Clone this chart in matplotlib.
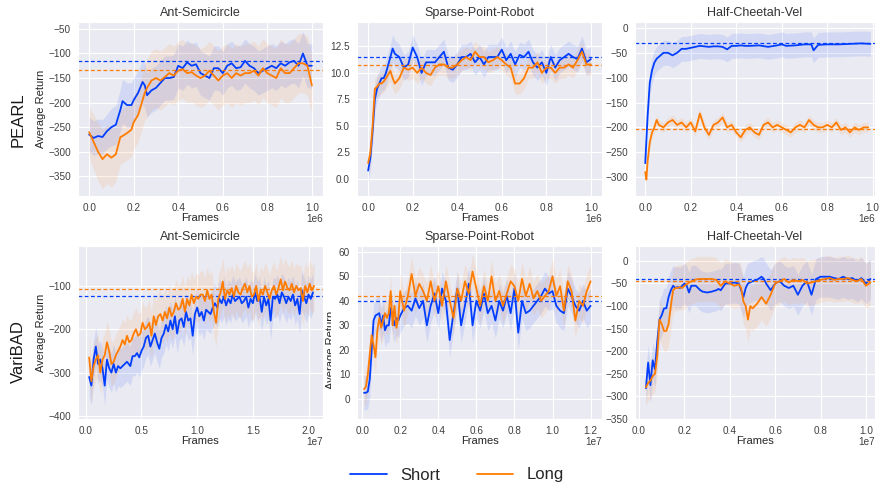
import numpy as np
import matplotlib
matplotlib.use("Agg")
import matplotlib.pyplot as plt
import seaborn as sns
from matplotlib.transforms import Bbox

sns.set_style("darkgrid")
plt.rcParams['font.family'] = ['Liberation Sans', 'DejaVu Sans']

BLUE = '#023eff'
ORANGE = '#ff7c00'

row_names = ["PEARL", "VariBAD"]
titles = ["Ant-Semicircle", "Sparse-Point-Robot", "Half-Cheetah-Vel"]
legend_labels = ["Short", "Long"]

# ---------------- PEARL: Ant-Semicircle (x in 1e6) ----------------
p_ant_x = [0.0, 0.02, 0.04, 0.06, 0.08, 0.10, 0.12, 0.14, 0.15, 0.17, 0.19, 0.20, 0.22, 0.24, 0.25,
           0.26, 0.28, 0.30, 0.32, 0.34, 0.36, 0.38, 0.40, 0.42, 0.44, 0.46, 0.48, 0.50, 0.52,
           0.54, 0.56, 0.58, 0.60, 0.62, 0.64, 0.66, 0.68, 0.70, 0.72, 0.74, 0.76, 0.78, 0.80,
           0.82, 0.84, 0.86, 0.88, 0.90, 0.92, 0.94, 0.96, 0.98, 1.0]
p_ant_short = [-265, -272, -268, -270, -258, -250, -245, -215, -197, -205, -205, -195, -180, -158, -165,
               -185, -175, -170, -160, -150, -150, -148, -125, -130, -118, -125, -122, -140, -145,
               -150, -130, -130, -140, -125, -120, -130, -128, -115, -125, -130, -140, -135, -130,
               -125, -130, -120, -125, -118, -115, -125, -100, -125, -125]
p_ant_short_sd = [35, 35, 35, 35, 35, 38, 40, 42, 45, 45, 45, 45, 45, 45, 45,
                  45, 45, 45, 45, 45, 45, 45, 45, 45, 45, 45, 45, 45, 45,
                  45, 45, 45, 45, 45, 45, 45, 45, 45, 45, 45, 45, 45, 45,
                  45, 45, 45, 45, 45, 45, 45, 45, 45, 45]
p_ant_long = [-260, -280, -300, -315, -305, -312, -305, -270, -268, -262, -255, -240, -225, -195, -180,
              -170, -155, -150, -155, -148, -140, -145, -135, -132, -140, -138, -145, -150, -145,
              -135, -145, -155, -145, -140, -150, -140, -145, -140, -140, -135, -145, -130, -140,
              -145, -150, -130, -140, -140, -130, -120, -120, -125, -165]
p_ant_long_sd = [50, 55, 60, 60, 60, 60, 55, 55, 55, 55, 55, 55, 55, 55, 55,
                 60, 60, 60, 60, 60, 60, 60, 60, 60, 60, 60, 60, 60, 60,
                 60, 60, 60, 60, 60, 60, 60, 60, 60, 60, 60, 60, 60, 60,
                 60, 60, 60, 60, 60, 60, 60, 60, 60, 60]
p_ant_ref = [-116, -133]

# ---------------- PEARL: Sparse-Point-Robot (x in 1e6) ----------------
p_spr_x = [0.0, 0.01, 0.02, 0.03, 0.04, 0.05, 0.06, 0.07, 0.08, 0.10, 0.11, 0.12, 0.14, 0.16, 0.18,
           0.20, 0.22, 0.24, 0.26, 0.28, 0.30, 0.32, 0.34, 0.36, 0.38, 0.40, 0.42, 0.44, 0.46,
           0.48, 0.50, 0.52, 0.54, 0.56, 0.58, 0.60, 0.62, 0.64, 0.66, 0.68, 0.70, 0.72, 0.74,
           0.76, 0.78, 0.80, 0.82, 0.84, 0.86, 0.88, 0.90, 0.92, 0.94, 0.96, 0.98, 1.0]
p_spr_short = [0.8, 2.0, 4.5, 7.5, 8.5, 9.0, 9.5, 9.5, 10.0, 11.5, 12.3, 11.8, 11.5, 10.5, 10.8,
               12.4, 11.5, 10.0, 11.0, 11.0, 11.0, 11.5, 12.0, 10.5, 10.3, 10.8, 11.5, 11.5, 11.8,
               11.0, 11.5, 10.8, 11.5, 11.5, 11.5, 12.2, 11.2, 11.8, 10.8, 11.7, 11.5, 12.0, 11.0,
               10.5, 11.0, 10.0, 11.5, 10.5, 11.2, 11.5, 11.8, 11.5, 11.3, 12.3, 11.0, 11.3]
p_spr_short_sd = [1.0, 1.2, 1.2, 1.2, 1.2, 1.2, 1.2, 1.2, 1.2, 1.2, 1.3, 1.3, 1.2, 1.2, 1.2,
                  1.2, 1.2, 1.2, 1.2, 1.2, 1.2, 1.2, 1.2, 1.2, 1.2, 1.2, 1.2, 1.2, 1.2,
                  1.2, 1.2, 1.2, 1.2, 1.2, 1.2, 1.2, 1.2, 1.2, 1.2, 1.2, 1.2, 1.2, 1.2,
                  1.2, 1.2, 1.2, 1.2, 1.2, 1.2, 1.2, 1.2, 1.2, 1.2, 1.2, 1.2, 1.2]
p_spr_long = [1.5, 2.5, 5.0, 8.5, 8.7, 9.0, 9.0, 9.2, 9.5, 10.2, 9.5, 9.0, 9.5, 10.5, 10.3,
              10.5, 10.0, 10.5, 10.0, 9.8, 10.5, 10.8, 10.8, 10.5, 10.5, 10.8, 11.2, 11.5, 11.2,
              12.0, 11.5, 11.5, 11.0, 11.2, 11.5, 11.2, 10.8, 10.5, 9.0, 9.0, 9.5, 10.5, 10.5,
              11.0, 10.0, 10.5, 10.5, 10.0, 10.5, 10.5, 10.8, 10.5, 11.2, 12.0, 10.8, 10.8]
p_spr_long_sd = [1.0, 1.0, 1.0, 1.0, 1.0, 1.0, 1.0, 1.0, 1.0, 1.0, 1.0, 1.0, 1.0, 1.0, 1.0,
                 1.0, 1.0, 1.0, 1.0, 1.0, 1.0, 1.0, 1.0, 1.0, 1.0, 1.0, 1.0, 1.0, 1.0,
                 1.0, 1.0, 1.0, 1.0, 1.0, 1.0, 1.0, 1.0, 1.0, 1.0, 1.0, 1.0, 1.0, 1.0,
                 1.0, 1.0, 1.0, 1.0, 1.0, 1.0, 1.0, 1.0, 1.0, 1.0, 1.0, 1.0, 1.0]
p_spr_ref = [11.5, 10.75]

# ---------------- PEARL: Half-Cheetah-Vel (x in 1e6) ----------------
p_hc_short_x = [0.0, 0.01, 0.02, 0.03, 0.04, 0.05, 0.06, 0.08, 0.10, 0.12, 0.14, 0.16, 0.18, 0.20,
                0.22, 0.24, 0.26, 0.28, 0.30, 0.32, 0.34, 0.36, 0.38, 0.40, 0.42, 0.44, 0.46,
                0.50, 0.54, 0.58, 0.60, 0.62, 0.66, 0.70, 0.73, 0.74, 0.76, 0.80, 0.85, 0.90,
                0.95, 0.99]
p_hc_short = [-272, -180, -110, -85, -70, -62, -58, -50, -50, -55, -50, -42, -42, -40,
              -38, -36, -37, -38, -37, -37, -38, -43, -36, -36, -35, -36, -36,
              -35, -38, -35, -33, -36, -35, -33, -33, -45, -34, -33, -33, -32,
              -31, -32]
p_hc_short_sd = [10, 20, 25, 25, 25, 25, 25, 25, 25, 25, 25, 25, 25, 25,
                 25, 25, 25, 25, 25, 25, 25, 25, 25, 25, 25, 25, 25,
                 25, 25, 25, 25, 25, 25, 25, 25, 25, 25, 25, 25, 25,
                 25, 25]
p_hc_long_x = [0.0, 0.005, 0.01, 0.015, 0.02, 0.03, 0.04, 0.05, 0.06, 0.08, 0.10, 0.12, 0.14, 0.16,
               0.18, 0.20, 0.22, 0.24, 0.26, 0.28, 0.30, 0.32, 0.34, 0.36, 0.38, 0.40, 0.42,
               0.44, 0.46, 0.48, 0.50, 0.52, 0.54, 0.56, 0.58, 0.60, 0.62, 0.64, 0.66, 0.68,
               0.70, 0.72, 0.74, 0.76, 0.78, 0.80, 0.82, 0.84, 0.86, 0.88, 0.90, 0.92, 0.94,
               0.96, 0.98]
p_hc_long = [-290, -305, -270, -250, -230, -210, -200, -185, -195, -200, -190, -185, -195, -190,
             -200, -190, -208, -172, -200, -215, -195, -190, -180, -200, -195, -210, -220,
             -205, -200, -210, -215, -195, -190, -200, -195, -200, -205, -210, -200, -195,
             -200, -185, -195, -200, -200, -195, -200, -190, -205, -200, -210, -200, -205,
             -200, -200]
p_hc_long_sd = [8, 8, 10, 10, 10, 10, 10, 10, 10, 10, 10, 10, 10, 10,
                10, 10, 10, 10, 10, 10, 10, 10, 10, 10, 10, 10, 10,
                10, 10, 10, 10, 10, 10, 10, 10, 10, 10, 10, 10, 10,
                10, 10, 10, 10, 10, 10, 10, 10, 10, 10, 10, 10, 10,
                10, 10]
p_hc_ref = [-31, -204]

# ---------------- VariBAD: Ant-Semicircle (x in 1e7) ----------------
v_ant_short_x = [0.03, 0.05, 0.07, 0.09, 0.11, 0.13, 0.15, 0.17, 0.19, 0.21, 0.23, 0.25, 0.27, 0.29,
                 0.31, 0.33, 0.35, 0.37, 0.40, 0.42, 0.44, 0.46, 0.48, 0.50, 0.52, 0.54, 0.56,
                 0.58, 0.60, 0.62, 0.64, 0.66, 0.68, 0.70, 0.72, 0.74, 0.76, 0.78, 0.80, 0.82,
                 0.84, 0.86, 0.88, 0.90, 0.92, 0.94, 0.96, 0.98, 1.00, 1.02, 1.04, 1.06, 1.08,
                 1.10, 1.12, 1.14, 1.16, 1.18, 1.20, 1.22, 1.24, 1.26, 1.28, 1.30, 1.32, 1.34,
                 1.36, 1.38, 1.40, 1.42, 1.44, 1.46, 1.48, 1.50, 1.52, 1.54, 1.56, 1.58, 1.60,
                 1.62, 1.64, 1.66, 1.68, 1.70, 1.72, 1.74, 1.76, 1.78, 1.80, 1.82, 1.84, 1.86,
                 1.88, 1.90, 1.92, 1.94, 1.96, 1.98, 2.00, 2.02, 2.04]
v_ant_short = [-310, -330, -270, -240, -280, -270, -290, -330, -270, -290, -300, -280, -300, -285,
               -290, -285, -280, -275, -285, -262, -262, -255, -265, -250, -240, -220, -215,
               -240, -225, -210, -230, -245, -220, -210, -190, -205, -180, -200, -170, -210,
               -180, -175, -195, -160, -180, -175, -215, -165, -150, -170, -160, -180, -155,
               -160, -165, -150, -140, -150, -130, -140, -125, -145, -130, -140, -120, -135,
               -130, -125, -140, -135, -125, -150, -130, -140, -115, -135, -125, -160, -125,
               -145, -130, -180, -125, -130, -120, -140, -115, -125, -140, -125, -135, -120,
               -145, -130, -165, -110, -125, -140, -120, -130, -115]
v_ant_short_sd = [45, 45, 45, 45, 45, 45, 45, 45, 45, 45, 45, 45, 45, 45,
                  45, 45, 45, 45, 45, 45, 45, 45, 45, 45, 45, 45, 45,
                  45, 45, 45, 45, 45, 45, 45, 45, 45, 45, 45, 45, 45,
                  45, 45, 45, 45, 45, 45, 45, 45, 45, 45, 45, 45, 45,
                  45, 45, 45, 45, 45, 45, 45, 45, 45, 45, 45, 45, 45,
                  45, 45, 45, 45, 45, 45, 45, 45, 45, 45, 45, 45, 45,
                  45, 45, 45, 45, 45, 45, 45, 45, 45, 45, 45, 45, 45,
                  45, 45, 45, 45, 45, 45, 45, 45, 45]
v_ant_long_x = [0.03, 0.05, 0.07, 0.09, 0.11, 0.13, 0.15, 0.17, 0.19, 0.21, 0.23, 0.25, 0.27, 0.29,
                0.31, 0.33, 0.35, 0.37, 0.39, 0.41, 0.43, 0.45, 0.47, 0.49, 0.51, 0.53, 0.55,
                0.57, 0.59, 0.61, 0.63, 0.65, 0.67, 0.69, 0.71, 0.73, 0.75, 0.77, 0.79, 0.81,
                0.83, 0.85, 0.87, 0.89, 0.91, 0.93, 0.95, 0.97, 0.99, 1.01, 1.03, 1.05, 1.07,
                1.09, 1.11, 1.13, 1.15, 1.17, 1.19, 1.21, 1.23, 1.25, 1.27, 1.29, 1.31, 1.33,
                1.35, 1.37, 1.39, 1.41, 1.43, 1.45, 1.47, 1.49, 1.51, 1.53, 1.55, 1.57, 1.59,
                1.61, 1.63, 1.65, 1.67, 1.69, 1.71, 1.73, 1.75, 1.77, 1.79, 1.81, 1.83, 1.85,
                1.87, 1.89, 1.91, 1.93, 1.95, 1.97, 1.99, 2.01, 2.03, 2.05]
v_ant_long = [-265, -320, -285, -270, -260, -300, -270, -260, -230, -250, -280, -275, -260, -250,
              -240, -225, -235, -215, -230, -225, -210, -200, -215, -210, -185, -200, -195,
              -185, -215, -170, -190, -170, -165, -180, -160, -175, -150, -170, -160, -140,
              -155, -150, -130, -160, -130, -145, -120, -140, -125, -130, -120, -120, -135,
              -110, -130, -120, -160, -185, -130, -115, -90, -130, -110, -120, -105, -125,
              -100, -115, -120, -105, -95, -115, -100, -125, -120, -100, -135, -110, -120,
              -100, -115, -130, -110, -100, -120, -105, -85, -110, -90, -105, -110, -95,
              -115, -100, -110, -105, -135, -100, -115, -95, -110, -100]
v_ant_long_sd = [50, 50, 50, 50, 50, 50, 50, 50, 50, 50, 50, 50, 50, 50,
                 50, 50, 50, 50, 50, 50, 50, 50, 50, 50, 50, 50, 50,
                 55, 55, 55, 55, 55, 55, 55, 55, 55, 55, 55, 55, 55,
                 55, 55, 55, 55, 55, 55, 55, 55, 55, 55, 55, 55, 55,
                 55, 55, 55, 55, 55, 55, 55, 55, 55, 55, 55, 55, 55,
                 55, 55, 55, 55, 55, 55, 55, 55, 55, 55, 55, 55, 55,
                 55, 55, 55, 55, 55, 55, 55, 55, 55, 55, 55, 55, 55,
                 55, 55, 55, 55, 55, 55, 55, 55, 55, 55]
v_ant_ref = [-124, -108]

# ---------------- VariBAD: Sparse-Point-Robot (x in 1e7) ----------------
v_spr_x = [0.01, 0.02, 0.03, 0.04, 0.05, 0.06, 0.07, 0.08, 0.09, 0.10, 0.11, 0.12, 0.13, 0.14,
           0.15, 0.16, 0.17, 0.18, 0.19, 0.20, 0.22, 0.24, 0.26, 0.28, 0.30, 0.32, 0.34, 0.36,
           0.38, 0.40, 0.42, 0.44, 0.46, 0.48, 0.50, 0.52, 0.54, 0.56, 0.58, 0.60, 0.62,
           0.64, 0.66, 0.68, 0.70, 0.72, 0.74, 0.76, 0.78, 0.80, 0.82, 0.84, 0.86, 0.88,
           0.90, 0.92, 0.94, 0.96, 0.98, 1.00, 1.02, 1.04, 1.06, 1.08, 1.10, 1.12, 1.14,
           1.16, 1.18, 1.20]
v_spr_short = [2.5, 2.5, 3, 8, 20, 32, 34, 34.5, 35, 30, 34, 28, 30, 30,
               37, 34, 30, 33, 32, 34, 37, 38, 36, 41, 37, 40, 30, 38,
               43, 35, 45, 40, 24, 35, 45, 30, 38, 47, 30, 40, 36,
               43, 35, 38, 32, 40, 36, 42, 35, 45, 27, 40, 35, 36,
               38, 40, 42, 45, 43, 44, 38, 36, 35, 45, 42, 38, 36,
               40, 36, 38]
v_spr_short_sd = [7, 7, 7, 7, 7, 7, 7, 7, 7, 7, 7, 7, 7, 7,
                  7, 7, 7, 7, 7, 7, 7, 7, 7, 7, 7, 7, 7, 7,
                  7, 7, 7, 7, 7, 7, 7, 7, 7, 7, 7, 7, 7,
                  7, 7, 7, 7, 7, 7, 7, 7, 7, 7, 7, 7, 7,
                  7, 7, 7, 7, 7, 7, 7, 7, 7, 7, 7, 7, 7,
                  7, 7, 7]
v_spr_long = [4, 5, 10, 18, 26, 22, 17, 28, 33, 29, 32, 35, 33, 35,
              44, 30, 38, 29, 33, 44, 36, 42, 51, 42, 47, 44, 40, 48,
              40, 46, 38, 48, 40, 33, 45, 40, 48, 43, 52, 45, 38,
              46, 40, 50, 40, 44, 38, 43, 48, 46, 40, 49, 42, 47,
              41, 44, 40, 42, 44, 50, 42, 46, 36, 48, 44, 32, 40,
              38, 44, 48]
v_spr_long_sd = [7, 7, 7, 7, 7, 7, 7, 7, 7, 7, 7, 7, 7, 7,
                 7, 7, 7, 7, 7, 7, 7, 7, 7, 7, 7, 7, 7, 7,
                 7, 7, 7, 7, 7, 7, 7, 7, 7, 7, 7, 7, 7,
                 7, 7, 7, 7, 7, 7, 7, 7, 7, 7, 7, 7, 7,
                 7, 7, 7, 7, 7, 7, 7, 7, 7, 7, 7, 7, 7,
                 7, 7, 7]
v_spr_ref = [40, 42]

# ---------------- VariBAD: Half-Cheetah-Vel (x in 1e7) ----------------
v_hc_short_x = [0.03, 0.04, 0.05, 0.06, 0.07, 0.08, 0.09, 0.10, 0.11, 0.12, 0.13, 0.14, 0.15, 0.16,
                0.17, 0.18, 0.19, 0.20, 0.21, 0.22, 0.23, 0.24, 0.25, 0.26, 0.27, 0.28, 0.30,
                0.32, 0.34, 0.35, 0.36, 0.38, 0.40, 0.42, 0.44, 0.46, 0.47, 0.48, 0.50, 0.52,
                0.54, 0.55, 0.56, 0.58, 0.60, 0.62, 0.64, 0.66, 0.68, 0.70, 0.72, 0.74, 0.76,
                0.78, 0.80, 0.82, 0.84, 0.86, 0.88, 0.90, 0.92, 0.94, 0.96, 0.98, 1.00, 1.02]
v_hc_short = [-282, -225, -275, -220, -240, -180, -130, -120, -105, -105, -80, -65, -55, -60,
              -58, -60, -55, -50, -55, -70, -55, -55, -55, -60, -65, -68, -70,
              -68, -65, -62, -65, -50, -50, -48, -50, -80, -60, -50, -45, -42,
              -35, -40, -50, -65, -50, -45, -55, -60, -55, -75, -55, -45, -75,
              -40, -35, -35, -35, -38, -40, -35, -40, -38, -45, -38, -50, -40]
v_hc_short_sd = [40, 40, 40, 40, 40, 40, 45, 45, 45, 45, 45, 45, 45, 45,
                 45, 45, 45, 45, 45, 45, 45, 45, 45, 45, 45, 45, 45,
                 45, 45, 45, 45, 45, 45, 45, 45, 45, 45, 45, 45, 45,
                 45, 45, 45, 45, 45, 45, 45, 45, 45, 45, 45, 45, 45,
                 45, 45, 45, 45, 45, 45, 45, 45, 45, 45, 45, 45, 45]
v_hc_long_x = [0.03, 0.04, 0.05, 0.06, 0.07, 0.08, 0.09, 0.10, 0.11, 0.12, 0.13, 0.14, 0.15, 0.16,
               0.17, 0.18, 0.19, 0.20, 0.22, 0.24, 0.26, 0.28, 0.30, 0.32, 0.34, 0.36, 0.38,
               0.40, 0.42, 0.44, 0.45, 0.46, 0.47, 0.48, 0.49, 0.50, 0.52, 0.54, 0.56, 0.58,
               0.60, 0.62, 0.64, 0.66, 0.68, 0.70, 0.72, 0.74, 0.76, 0.78, 0.80, 0.82, 0.84,
               0.86, 0.88, 0.90, 0.92, 0.94, 0.96, 0.98, 1.00, 1.02]
v_hc_long = [-280, -270, -265, -255, -250, -210, -130, -140, -155, -155, -140, -100, -65, -60,
             -60, -58, -60, -55, -48, -43, -40, -40, -40, -40, -42, -55, -45,
             -50, -55, -52, -60, -90, -100, -130, -100, -105, -95, -80, -95, -75,
             -50, -45, -40, -48, -42, -45, -42, -50, -48, -45, -42, -40, -38,
             -42, -40, -40, -38, -42, -45, -40, -55, -48]
v_hc_long_sd = [40, 40, 40, 40, 40, 40, 45, 45, 45, 45, 50, 50, 50, 50,
                50, 50, 50, 50, 50, 50, 50, 50, 50, 50, 50, 50, 50,
                50, 50, 50, 50, 50, 50, 50, 50, 50, 50, 50, 50, 50,
                50, 50, 50, 50, 50, 50, 50, 50, 50, 50, 50, 50, 50,
                50, 50, 50, 50, 50, 50, 50, 50, 50]
v_hc_ref = [-41, -45]

panels = [
    # row 0 (PEARL)
    dict(xs=(p_ant_x, p_ant_x), ys=(p_ant_short, p_ant_long), sd=(p_ant_short_sd, p_ant_long_sd),
         ref=p_ant_ref, ylim=(-390, -36), xlim=(-0.05, 1.05), yticks=[-350, -300, -250, -200, -150, -100, -50],
         xticks=[0, 0.2, 0.4, 0.6, 0.8, 1.0], off='1e6'),
    dict(xs=(p_spr_x, p_spr_x), ys=(p_spr_short, p_spr_long), sd=(p_spr_short_sd, p_spr_long_sd),
         ref=p_spr_ref, ylim=(-1.6, 14.8), xlim=(-0.05, 1.05), yticks=[0, 2.5, 5, 7.5, 10, 12.5],
         xticks=[0, 0.2, 0.4, 0.6, 0.8, 1.0], off='1e6'),
    dict(xs=(p_hc_short_x, p_hc_long_x), ys=(p_hc_short, p_hc_long), sd=(p_hc_short_sd, p_hc_long_sd),
         ref=p_hc_ref, ylim=(-338, 12), xlim=(-0.045, 1.01), yticks=[-300, -250, -200, -150, -100, -50, 0],
         xticks=[0, 0.2, 0.4, 0.6, 0.8, 1.0], off='1e6'),
    # row 1 (VariBAD)
    dict(xs=(v_ant_short_x, v_ant_long_x), ys=(v_ant_short, v_ant_long), sd=(v_ant_short_sd, v_ant_long_sd),
         ref=v_ant_ref, ylim=(-407, -8), xlim=(-0.07, 2.13), yticks=[-400, -300, -200, -100],
         xticks=[0, 0.5, 1.0, 1.5, 2.0], off='1e7'),
    dict(xs=(v_spr_x, v_spr_x), ys=(v_spr_short, v_spr_long), sd=(v_spr_short_sd, v_spr_long_sd),
         ref=v_spr_ref, ylim=(-8.2, 62.4), xlim=(-0.027, 1.26), yticks=[0, 10, 20, 30, 40, 50, 60],
         xticks=[0, 0.2, 0.4, 0.6, 0.8, 1.0, 1.2], off='1e7'),
    dict(xs=(v_hc_short_x, v_hc_long_x), ys=(v_hc_short, v_hc_long), sd=(v_hc_short_sd, v_hc_long_sd),
         ref=v_hc_ref, ylim=(-350, 33), xlim=(-0.018, 1.04), yticks=[-350, -300, -250, -200, -150, -100, -50, 0],
         xticks=[0, 0.2, 0.4, 0.6, 0.8, 1.0], off='1e7'),
]

W, H = 880, 488
fig = plt.figure(figsize=(W / 100, H / 100), dpi=100)

col_px = [(78, 323), (357, 602), (635, 875)]
row_px = [(22, 196), (246, 419)]

TICK_FS = 7.2
LAB_FS = 8
TITLE_FS = 9
colors = [BLUE, ORANGE]
handles = []
for i, p in enumerate(panels):
    r, c = divmod(i, 3)
    x0, x1 = col_px[c]
    t0, t1 = row_px[r]
    hpx = t1 - t0
    ax = fig.add_axes([x0 / W, 1 - t1 / H, (x1 - x0) / W, hpx / H])
    for k in range(2):
        x = np.array(p['xs'][k])
        y = np.array(p['ys'][k], dtype=float)
        s = np.array(p['sd'][k], dtype=float)
        ax.fill_between(x, y - s, y + s, color=colors[k], alpha=0.1, linewidth=0)
        ln, = ax.plot(x, y, color=colors[k], lw=1.3, label=legend_labels[k])
        if i == 0:
            handles.append(ln)
        ax.axhline(p['ref'][k], color=colors[k], lw=0.9, ls=(0, (3, 2)))
    ax.set_xlim(*p['xlim'])
    ax.set_ylim(*p['ylim'])
    ax.set_yticks(p['yticks'])
    ax.set_xticks(p['xticks'])
    ax.set_xticklabels([f"{v:.1f}" for v in p['xticks']])
    ax.tick_params(labelsize=TICK_FS, pad=1.5, colors='.25')
    ax.set_title(titles[c], fontsize=TITLE_FS, pad=4, color='.2')
    ax.set_xlabel("Frames", fontsize=LAB_FS, labelpad=0, color='.15')
    ax.text(1.0, -23.0 / hpx, p['off'], transform=ax.transAxes, ha='right', va='center',
            fontsize=TICK_FS, color='.25')
    if c == 0:
        ax.set_ylabel("Average Return", fontsize=LAB_FS, labelpad=2, color='.15')
    if i == 4:
        t = fig.text(331 / W, 1 - 350 / H, "Average Return", rotation=90, ha='center', va='center',
                     fontsize=LAB_FS, color='.15')
        t.set_clip_box(Bbox.from_extents(0, 0, 331, H))
        t.set_clip_on(True)

fig.text(18 / W, 1 - 120 / H, row_names[0], rotation=90, ha='center', va='center', fontsize=12, color='.1')
fig.text(18 / W, 1 - 352 / H, row_names[1], rotation=90, ha='center', va='center', fontsize=12, color='.1')

fig.legend(handles=handles, labels=legend_labels, loc='center', bbox_to_anchor=(457 / W, 1 - 475 / H),
           ncol=2, frameon=False, fontsize=12, handlelength=2.2, columnspacing=2.2, handletextpad=0.8)

fig.savefig("out.png", dpi=100, facecolor='white')
